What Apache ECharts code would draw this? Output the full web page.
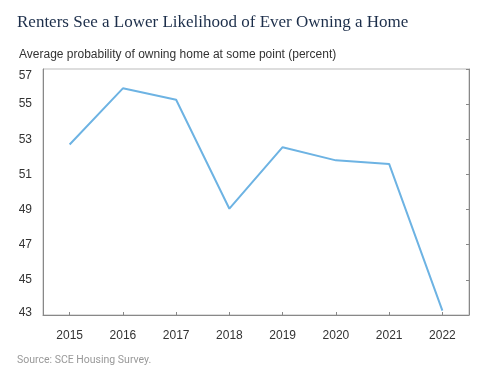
<!DOCTYPE html>
<html>
<head>
<meta charset="utf-8">
<script src="https://cdn.jsdelivr.net/npm/echarts@6/dist/echarts.min.js"></script>
<style>
  html, body { margin: 0; padding: 0; background: #fff; }
  #chart { width: 500px; height: 376px; }
</style>
</head>
<body>
<div id="chart"></div>
<script>
// chart data
const years = ['2015', '2016', '2017', '2018', '2019', '2020', '2021', '2022'];
const probability = [52.7, 55.9, 55.25, 49.05, 52.55, 51.8, 51.6, 43.25];
const yMin = 43;
const yMax = 57;

const myChart = echarts.init(document.getElementById('chart'));

const labelFont = { color: '#333', fontSize: 12, fontFamily: 'Liberation Sans' };

const option = {
  animation: false,
  title: [{
    text: 'Renters See a Lower Likelihood of Ever Owning a Home',
    left: 12,
    top: 9,
    textStyle: {
      fontFamily: 'Liberation Serif',
      fontWeight: 'normal',
      fontSize: 17,
      color: '#1c2e4a'
    }
  }, {
    text: 'Average probability of owning home at some point (percent)',
    left: 14,
    top: 44,
    textStyle: {
      fontFamily: 'Liberation Sans',
      fontWeight: 'normal',
      fontSize: 12,
      color: '#333'
    }
  }, {
    text: 'Source: SCE Housing Survey.',
    left: 12,
    top: 350,
    textStyle: {
      fontFamily: 'Roboto',
      fontWeight: 'normal',
      fontSize: 10.5,
      color: '#999'
    }
  }],
  grid: {
    left: 43,
    right: 31,
    top: 69,
    bottom: 61,
    show: true,
    borderColor: '#bbb',
    borderWidth: 1
  },
  xAxis: {
    type: 'category',
    data: years,
    axisLine: { show: true, lineStyle: { color: '#888' } },
    axisTick: { show: true, inside: true, alignWithLabel: true, length: 3, lineStyle: { color: '#888' } },
    axisLabel: Object.assign({ margin: 15 }, labelFont),
    splitLine: { show: false }
  },
  yAxis: [{
    type: 'value',
    min: yMin,
    max: yMax,
    interval: 2,
    axisLine: { show: true, lineStyle: { color: '#888' } },
    axisTick: { show: false },
    axisLabel: Object.assign({
      margin: 11,
      // first and last labels sit inside the frame like in the original
      formatter: (v) => v === yMax ? `{hi|${v}}` : v === yMin ? `{lo|${v}}` : `${v}`,
      rich: {
        hi: Object.assign({ padding: [13, 0, 0, 0] }, labelFont),
        lo: Object.assign({ padding: [0, 0, 4, 0] }, labelFont)
      }
    }, labelFont),
    splitLine: { show: false }
  }, {
    type: 'value',
    position: 'right',
    min: yMin,
    max: yMax,
    interval: 2,
    axisLine: { show: true, lineStyle: { color: '#888' } },
    axisTick: { show: true, inside: true, length: 3, lineStyle: { color: '#888' } },
    axisLabel: { show: false },
    splitLine: { show: false }
  }],
  series: [{
    type: 'line',
    data: probability,
    symbol: 'none',
    lineStyle: { color: '#6db3e3', width: 2 }
  }]
};

myChart.setOption(option);
</script>
</body>
</html>
